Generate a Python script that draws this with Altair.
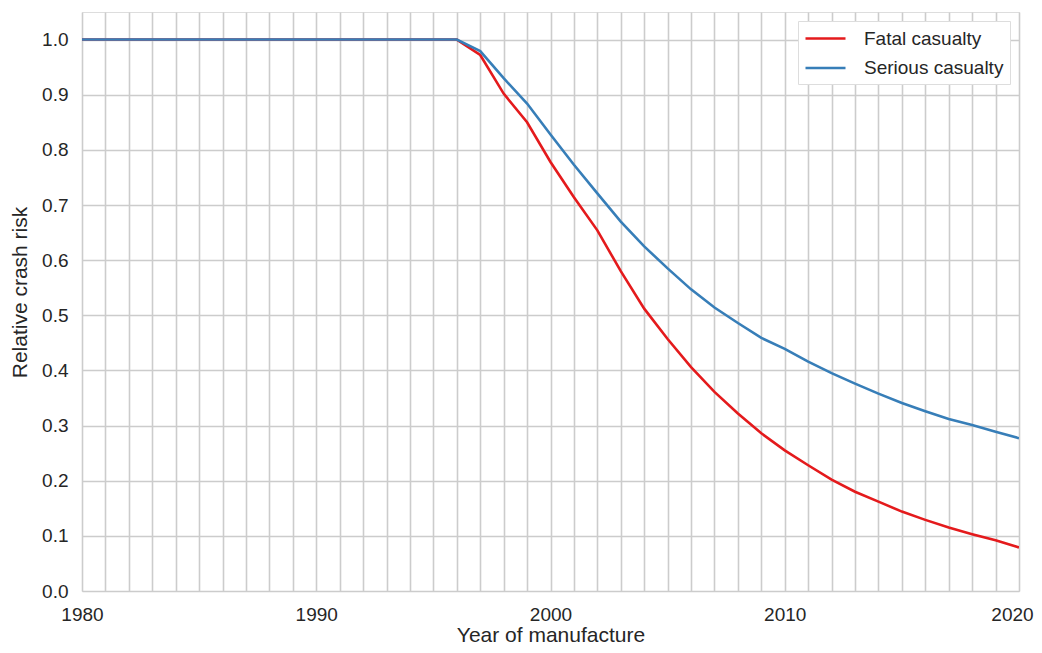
import altair as alt
import pandas as pd

years = list(range(1980, 2021))
fatal = [1.0] * 17 + [0.972, 0.902, 0.850, 0.778, 0.714, 0.654, 0.580, 0.512, 0.457, 0.406,
                      0.361, 0.322, 0.286, 0.255, 0.228, 0.202, 0.180, 0.162, 0.144, 0.129,
                      0.115, 0.103, 0.092, 0.079]
serious = [1.0] * 17 + [0.979, 0.930, 0.884, 0.828, 0.773, 0.721, 0.670, 0.625, 0.585, 0.547,
                        0.514, 0.486, 0.459, 0.439, 0.416, 0.395, 0.376, 0.358, 0.341, 0.326,
                        0.312, 0.301, 0.289, 0.277]
series_names = ["Fatal casualty", "Serious casualty"]
series_colors = ["#e41a1c", "#377eb8"]
y_ticks = [round(i * 0.1, 1) for i in range(11)]

rows = []
for y, f, s in zip(years, fatal, serious):
    rows.append({"year": y, "risk": f, "series": series_names[0]})
    rows.append({"year": y, "risk": s, "series": series_names[1]})
df = pd.DataFrame(rows)

FONT = "Liberation Sans"
TXT = "#262626"
FS = 19
TFS = 21

chart = alt.Chart(df).mark_line(strokeWidth=2.6, clip=True).encode(
    x=alt.X("year:Q", title="Year of manufacture",
            scale=alt.Scale(domain=[1980, 2020], nice=False, zero=False),
            axis=alt.Axis(values=years, format="d",
                          labelExpr="datum.value % 10 == 0 ? datum.label : ''",
                          labelOffset={"condition": {"test": "datum.value == 2020", "value": -7},
                                       "value": 0},
                          labelOverlap=False, labelFlush=False, tickSize=0, labelPadding=14,
                          domain=False, gridColor="#cccccc", gridWidth=1.6,
                          labelFontSize=FS, titleFontSize=TFS, titleFontWeight="normal",
                          labelColor=TXT, titleColor=TXT, labelFont=FONT, titleFont=FONT,
                          titlePadding=0)),
    y=alt.Y("risk:Q", title="Relative crash risk",
            scale=alt.Scale(domain=[0, 1.05], nice=False),
            axis=alt.Axis(values=y_ticks, format=".1f", tickSize=0, labelPadding=14,
                          labelFlush=False,
                          domain=False, gridColor="#cccccc", gridWidth=1.6,
                          labelFontSize=FS, titleFontSize=TFS, titleFontWeight="normal",
                          labelColor=TXT, titleColor=TXT, labelFont=FONT, titleFont=FONT,
                          titlePadding=11, titleY=280)),
    color=alt.Color("series:N", title=None,
                    scale=alt.Scale(domain=series_names, range=series_colors),
                    legend=alt.Legend(orient="top-right", offset=9, symbolType="M-1,0H3",
                                      symbolSize=400, symbolStrokeWidth=2.6,
                                      labelFontSize=FS, labelFont=FONT, labelColor=TXT,
                                      fillColor="white", strokeColor="#dddddd",
                                      padding=6, rowPadding=7.5, labelOffset=37)),
).properties(
    width=937, height=579,
    autosize=alt.AutoSizeParams(type="none"),
    padding={"left": 74, "top": 4, "right": 15, "bottom": 54},
).configure_view(
    stroke="#cccccc", strokeWidth=1.6
).configure(background="white")

chart.save("out.html", embed_options={"renderer": "svg", "actions": False})
